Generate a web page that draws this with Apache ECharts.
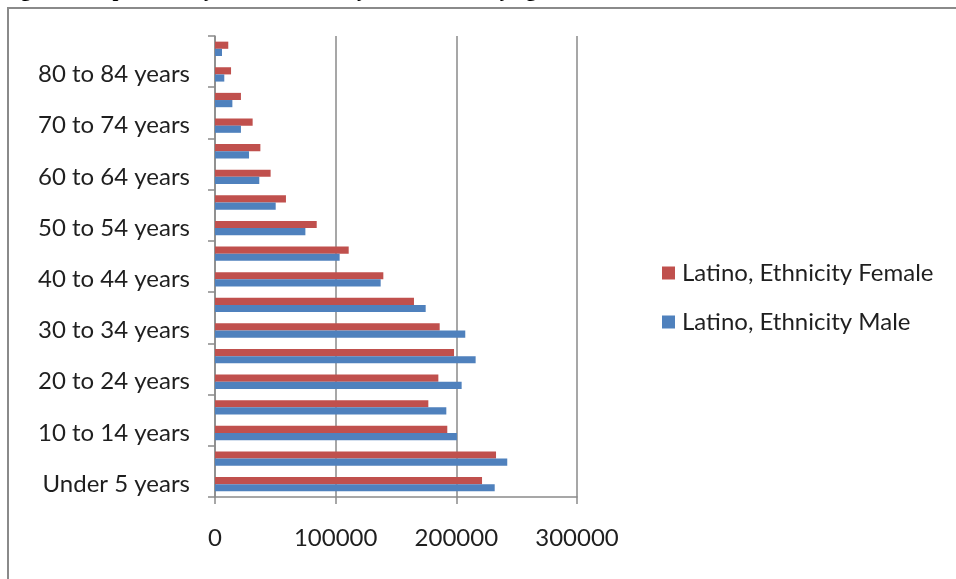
<!DOCTYPE html>
<html>
<head>
<meta charset="utf-8">
<title>Latino population by sex and age</title>
<script src="https://cdn.jsdelivr.net/npm/echarts@6/dist/echarts.min.js"></script>
<style>
  html, body { margin: 0; padding: 0; background: #ffffff; }
  #chart { width: 956px; height: 579px; }
</style>
</head>
<body>
<div id="chart"></div>
<script>
// Age groups, youngest first (bottom of the category axis)
const ageGroups = [
  'Under 5 years', '5 to 9 years', '10 to 14 years', '15 to 19 years',
  '20 to 24 years', '25 to 29 years', '30 to 34 years', '35 to 39 years',
  '40 to 44 years', '45 to 49 years', '50 to 54 years', '55 to 59 years',
  '60 to 64 years', '65 to 69 years', '70 to 74 years', '75 to 79 years',
  '80 to 84 years', '85 years and over'
];

const femaleCounts = [
  221300, 232900, 192500, 176800, 185100, 198100, 186200, 164900, 139500,
  110800, 84300, 58800, 46100, 37600, 31200, 21500, 13300, 11000
];

const maleCounts = [
  231800, 242200, 200500, 191700, 204400, 216000, 207400, 174600, 137300,
  103300, 74900, 50300, 36700, 28200, 21500, 14400, 7700, 5800
];

const seriesNames = ['Latino, Ethnicity Female', 'Latino, Ethnicity Male'];
const seriesColors = ['#C0504D', '#4F81BD'];

const axisMin = 0;
const axisMax = 300000;
const axisStep = 100000;

const FONT = 'Lato, "Open Sans", sans-serif';
const TEXT = '#1f1f1f';
const LINE = '#8a8a8a';

const chart = echarts.init(document.getElementById('chart'), null, { renderer: 'canvas' });

chart.setOption({
  animation: false,
  backgroundColor: '#ffffff',
  graphic: [
    {
      type: 'text',
      left: 2,
      top: -20,
      z: 0,
      style: {
        text: 'Figure 4: Population by Latino Ethnicity and Gender, by age',
        font: 'bold 21px "Liberation Serif", "DejaVu Serif", serif',
        fill: '#000000'
      }
    },
    {
      type: 'rect',
      z: 0,
      shape: { x: 8, y: 8, width: 1200, height: 1200 },
      style: { fill: 'none', stroke: LINE, lineWidth: 2 }
    }
  ],
  legend: {
    orient: 'vertical',
    left: 662,
    top: 261,
    padding: 0,
    itemWidth: 13,
    itemHeight: 13,
    itemGap: 25,
    icon: 'rect',
    data: seriesNames,
    textStyle: { fontFamily: FONT, fontSize: 24, color: TEXT, padding: [0, 0, 0, 2] }
  },
  grid: {
    left: 215,
    right: 956 - 577,
    top: 36,
    bottom: 579 - 497,
    containLabel: false
  },
  xAxis: {
    type: 'value',
    min: axisMin,
    max: axisMax,
    interval: axisStep,
    axisLine: { show: true, lineStyle: { color: LINE, width: 1.5 } },
    axisTick: { show: true, length: 7, lineStyle: { color: LINE, width: 1.5 } },
    splitLine: { show: true, lineStyle: { color: LINE, width: 1.5 } },
    axisLabel: {
      margin: 29,
      fontFamily: FONT,
      fontSize: 24,
      color: TEXT,
      formatter: (v) => String(v)
    }
  },
  yAxis: {
    type: 'category',
    data: ageGroups,
    axisLine: { show: true, lineStyle: { color: LINE, width: 1.5 } },
    axisTick: { show: true, length: 7, lineStyle: { color: LINE, width: 1.5 } },
    axisLabel: {
      interval: 1,
      margin: 25,
      fontFamily: FONT,
      fontSize: 24,
      color: TEXT
    }
  },
  series: [
    {
      name: seriesNames[0],
      type: 'bar',
      data: femaleCounts,
      barGap: '0%',
      barCategoryGap: '44%',
      itemStyle: { color: seriesColors[0] }
    },
    {
      name: seriesNames[1],
      type: 'bar',
      data: maleCounts,
      barGap: '0%',
      barCategoryGap: '44%',
      itemStyle: { color: seriesColors[1] }
    }
  ]
});
</script>
</body>
</html>
